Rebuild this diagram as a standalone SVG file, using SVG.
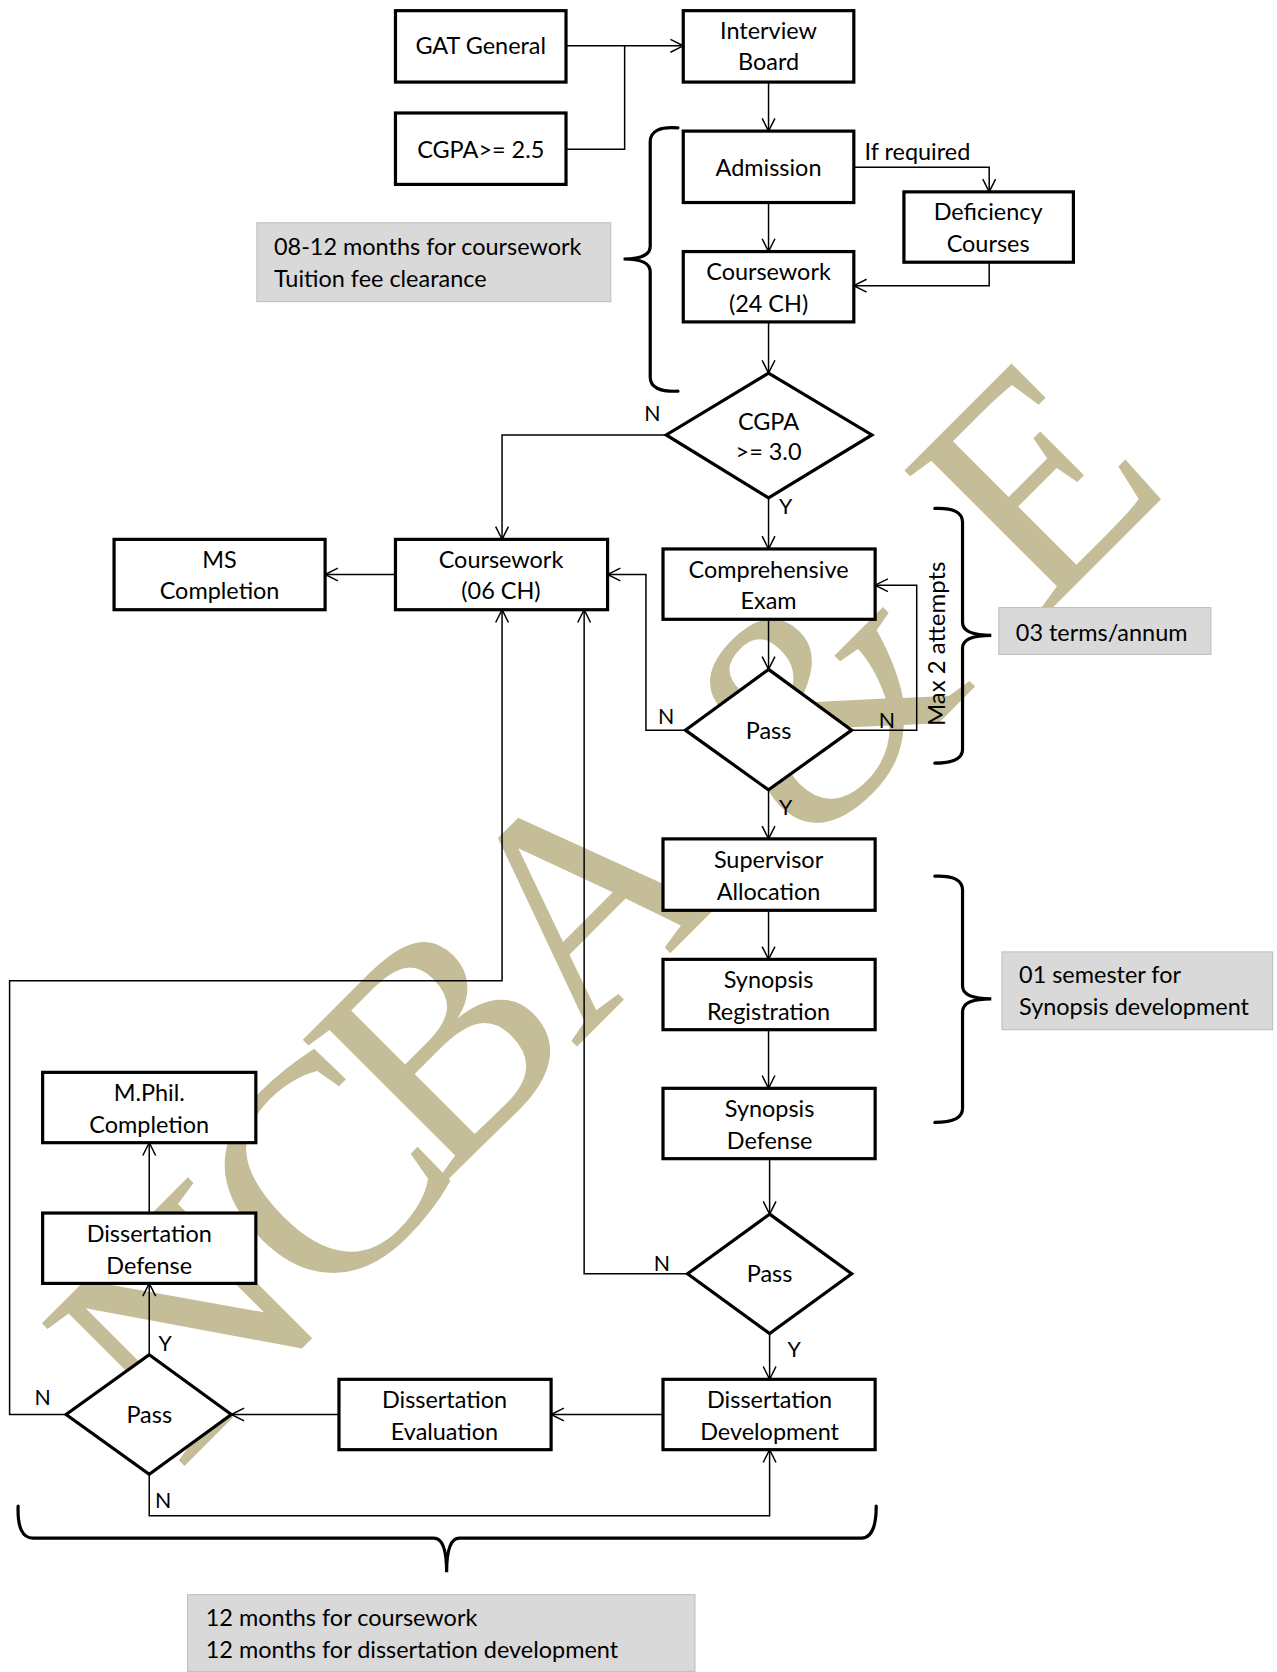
<svg xmlns="http://www.w3.org/2000/svg" width="1277" height="1672" viewBox="0 0 1277 1672">
<defs>
<marker id="arr" markerUnits="userSpaceOnUse" markerWidth="16" markerHeight="16" refX="12" refY="6" orient="auto" overflow="visible"><path d="M0,0 L12,6 L0,12" fill="none" stroke="#000" stroke-width="1.4"/></marker>
</defs>
<style>
.box{fill:#fff;stroke:#000;stroke-width:3}
.dia{fill:#fff;stroke:#000;stroke-width:3;stroke-linejoin:miter}
.note{fill:#d9d9d9;stroke:#bfbfbf;stroke-width:1}
.t{font-family:Lato,"Liberation Sans",sans-serif;font-size:22px;fill:#000;text-anchor:middle}
.tl{font-family:Lato,"Liberation Sans",sans-serif;font-size:22px;fill:#000;text-anchor:start}
.lbl{font-family:Lato,"Liberation Sans",sans-serif;font-size:20px;fill:#000;text-anchor:middle}
.c{fill:none;stroke:#000;stroke-width:1.4}
.brace{fill:none;stroke:#000;stroke-width:3;stroke-linecap:round}
.wm{font-family:"Liberation Serif","Times New Roman",serif;font-size:308px;fill:#c4bd97}
</style>
<rect width="1277" height="1672" fill="#fff"/>
<text class="wm" transform="rotate(-45)" x="-915 -704 -530 -335 -30 298" y="1167 1160 1151 1148 1175 1174">NCBA&amp;E</text>
<g transform="scale(1.06594)">
<g id="connectors">
<path class="c" d="M531,43 L641,43" marker-end="url(#arr)"/>
<path class="c" d="M531,140 L586,140 L586,43"/>
<path class="c" d="M721,77 L721,123" marker-end="url(#arr)"/>
<path class="c" d="M721,190 L721,236" marker-end="url(#arr)"/>
<path class="c" d="M801,157 L928,157 L928,180" marker-end="url(#arr)"/>
<path class="c" d="M928,246 L928,268 L801,268" marker-end="url(#arr)"/>
<path class="c" d="M721,302 L721,350" marker-end="url(#arr)"/>
<path class="c" d="M625,408 L471,408 L471,506" marker-end="url(#arr)"/>
<path class="c" d="M721,467 L721,515" marker-end="url(#arr)"/>
<path class="c" d="M721,581 L721,628" marker-end="url(#arr)"/>
<path class="c" d="M643,685 L606,685 L606,539 L570,539" marker-end="url(#arr)"/>
<path class="c" d="M799,685 L860,685 L860,549 L821,549" marker-end="url(#arr)"/>
<path class="c" d="M721,741 L721,787" marker-end="url(#arr)"/>
<path class="c" d="M721,854 L721,900" marker-end="url(#arr)"/>
<path class="c" d="M721,966 L721,1021" marker-end="url(#arr)"/>
<path class="c" d="M722,1087 L722,1139" marker-end="url(#arr)"/>
<path class="c" d="M645,1195 L548,1195 L548,572" marker-end="url(#arr)"/>
<path class="c" d="M722,1251 L722,1294" marker-end="url(#arr)"/>
<path class="c" d="M622,1327 L517,1327" marker-end="url(#arr)"/>
<path class="c" d="M318,1327 L217,1327" marker-end="url(#arr)"/>
<path class="c" d="M140,1271 L140,1204" marker-end="url(#arr)"/>
<path class="c" d="M140,1138 L140,1072" marker-end="url(#arr)"/>
<path class="c" d="M62,1327 L9,1327 L9,920 L471,920 L471,572" marker-end="url(#arr)"/>
<path class="c" d="M140,1383 L140,1422 L722,1422 L722,1360" marker-end="url(#arr)"/>
<path class="c" d="M371,539 L305,539" marker-end="url(#arr)"/>
<text class="tl" x="811" y="150">If required</text>
<text class="lbl" x="612" y="395">N</text>
<text class="lbl" x="737" y="482">Y</text>
<text class="lbl" x="625" y="679">N</text>
<text class="lbl" x="832" y="683">N</text>
<text class="lbl" x="737" y="765">Y</text>
<text class="lbl" x="621" y="1192">N</text>
<text class="lbl" x="745" y="1273">Y</text>
<text class="lbl" x="155" y="1267">Y</text>
<text class="lbl" x="40" y="1318">N</text>
<text class="lbl" x="153" y="1415">N</text>
</g>
<g id="gat"><rect class="box" x="371" y="10" width="160" height="67"/><text class="t" x="451" y="51">GAT General</text></g>
<g id="interview"><rect class="box" x="641" y="10" width="160" height="67"/><text class="t" x="721" y="37">Interview</text><text class="t" x="721" y="66">Board</text></g>
<g id="cgpa25"><rect class="box" x="371" y="106" width="160" height="67"/><text class="t" x="451" y="148">CGPA&gt;= 2.5</text></g>
<g id="admission"><rect class="box" x="641" y="123" width="160" height="67"/><text class="t" x="721" y="165">Admission</text></g>
<g id="deficiency"><rect class="box" x="848" y="180" width="159" height="66"/><text class="t" x="927" y="206">Deficiency</text><text class="t" x="927" y="236">Courses</text></g>
<g id="coursework24"><rect class="box" x="641" y="236" width="160" height="66"/><text class="t" x="721" y="263">Coursework</text><text class="t" x="721" y="293">(24 CH)</text></g>
<g id="cgpa30"><polygon class="dia" points="721,350 818,408 721,467 625,408"/><text class="t" x="721" y="403">CGPA</text><text class="t" x="721" y="432">&gt;= 3.0</text></g>
<g id="coursework06"><rect class="box" x="371" y="506" width="199" height="66"/><text class="t" x="470" y="533">Coursework</text><text class="t" x="470" y="562">(06 CH)</text></g>
<g id="ms"><rect class="box" x="107" y="506" width="198" height="66"/><text class="t" x="206" y="533">MS</text><text class="t" x="206" y="562">Completion</text></g>
<g id="comprehensive"><rect class="box" x="622" y="515" width="199" height="66"/><text class="t" x="721" y="542">Comprehensive</text><text class="t" x="721" y="571">Exam</text></g>
<g id="pass1"><polygon class="dia" points="721,628 799,685 721,741 643,685"/><text class="t" x="721" y="693">Pass</text></g>
<g id="supervisor"><rect class="box" x="622" y="787" width="199" height="67"/><text class="t" x="721" y="814">Supervisor</text><text class="t" x="721" y="844">Allocation</text></g>
<g id="synreg"><rect class="box" x="622" y="900" width="199" height="66"/><text class="t" x="721" y="927">Synopsis</text><text class="t" x="721" y="957">Registration</text></g>
<g id="syndef"><rect class="box" x="622" y="1021" width="199" height="66"/><text class="t" x="722" y="1048">Synopsis</text><text class="t" x="722" y="1078">Defense</text></g>
<g id="pass2"><polygon class="dia" points="722,1139 799,1195 722,1251 645,1195"/><text class="t" x="722" y="1203">Pass</text></g>
<g id="dissdev"><rect class="box" x="622" y="1294" width="199" height="66"/><text class="t" x="722" y="1321">Dissertation</text><text class="t" x="722" y="1351">Development</text></g>
<g id="disseval"><rect class="box" x="318" y="1294" width="199" height="66"/><text class="t" x="417" y="1321">Dissertation</text><text class="t" x="417" y="1351">Evaluation</text></g>
<g id="pass3"><polygon class="dia" points="140,1271 217,1327 140,1383 62,1327"/><text class="t" x="140" y="1335">Pass</text></g>
<g id="dissdef"><rect class="box" x="40" y="1138" width="200" height="66"/><text class="t" x="140" y="1165">Dissertation</text><text class="t" x="140" y="1195">Defense</text></g>
<g id="mphil"><rect class="box" x="40" y="1006" width="200" height="66"/><text class="t" x="140" y="1033">M.Phil.</text><text class="t" x="140" y="1063">Completion</text></g>
<g id="note1"><rect class="note" x="241" y="209" width="332" height="74"/><text class="tl" x="257" y="239">08-12 months for coursework</text><text class="tl" x="257" y="269">Tuition fee clearance</text></g>
<g id="note2"><rect class="note" x="937" y="570" width="199" height="44"/><text class="tl" x="953" y="601">03 terms/annum</text></g>
<g id="note3"><rect class="note" x="940" y="893" width="254" height="73"/><text class="tl" x="956" y="922">01 semester for</text><text class="tl" x="956" y="952">Synopsis development</text></g>
<g id="note4"><rect class="note" x="176" y="1496" width="476" height="72"/><text class="tl" x="193" y="1525">12 months for coursework</text><text class="tl" x="193" y="1555">12 months for dissertation development</text></g>
<g id="braces">
<path class="brace" d="M636,120 Q610,118 610,133 L610,231 Q610,243 585,243 Q610,243 610,255 L610,354 Q610,368 636,367"/>
<path class="brace" d="M877,477 Q903,476 903,490 L903,584 Q903,596 930,596 Q903,596 903,608 L903,703 Q903,716 877,716"/>
<path class="brace" d="M877,822 Q903,821 903,835 L903,925 Q903,937 930,937 Q903,937 903,949 L903,1040 Q903,1053 877,1053"/>
<path class="brace" d="M17,1413 Q16,1443 31,1443 L407,1443 Q419,1443 419,1475 Q419,1443 431,1443 L808,1443 Q822,1443 822,1413"/>
</g>
<text class="lbl" transform="translate(887,604) rotate(-90)" x="0" y="0" style="font-size:22.5px">Max 2 attempts</text>
</g>
</svg>
